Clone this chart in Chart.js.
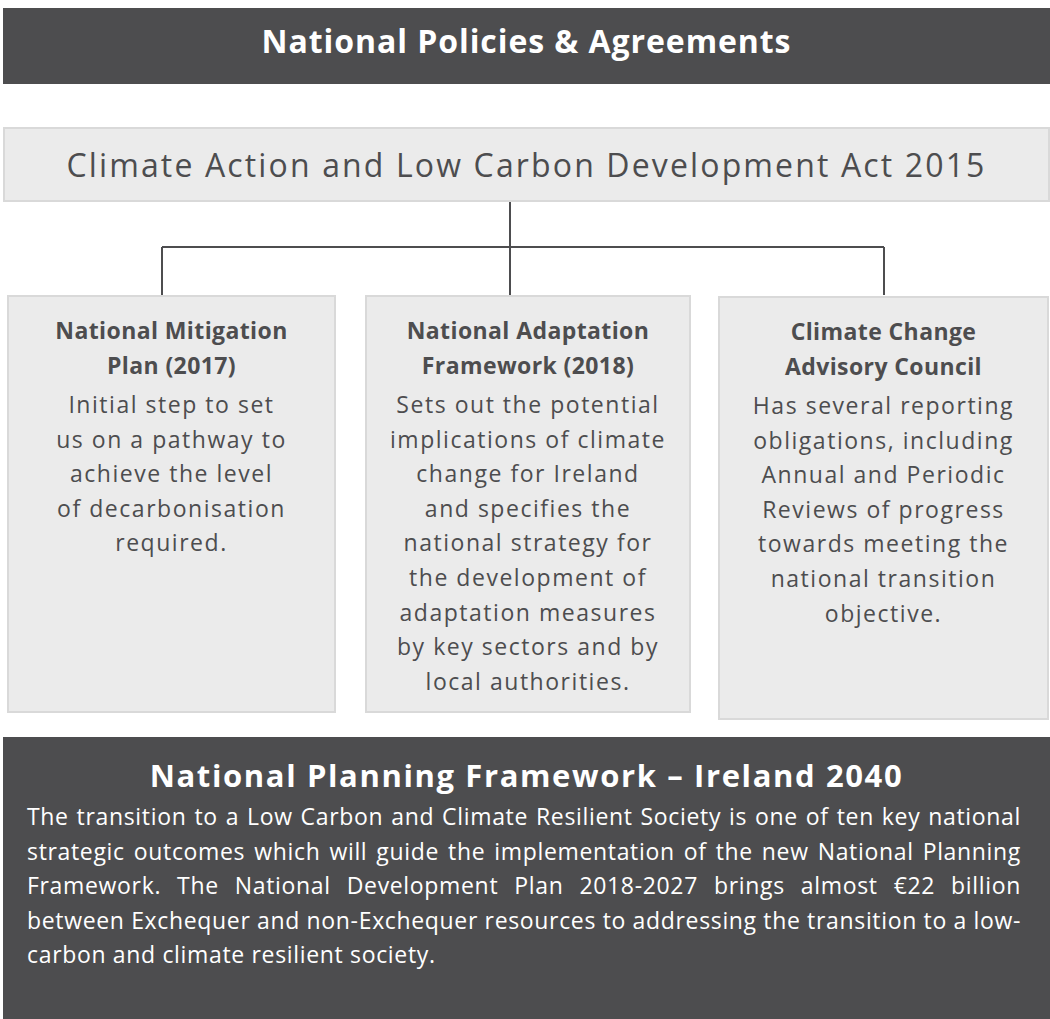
<!DOCTYPE html>
<html lang="en">
<head>
    <meta charset="UTF-8">
    <title>National Policies &amp; Agreements</title>
    <script src="https://cdn.jsdelivr.net/npm/chart.js"></script>
    <style>
        body {
            margin: 0;
            background-color: #ffffff;
            font-family: 'Open Sans', sans-serif;
            color: #4d4d4f;
        }

        #page {
            position: relative;
            width: 1050px;
            height: 1019px;
            overflow: hidden;
        }

        #links {
            position: absolute;
            left: 0;
            top: 0;
        }

        .dark {
            position: absolute;
            background-color: #4d4d4f;
            color: #ffffff;
        }

        .grey {
            position: absolute;
            box-sizing: border-box;
            background-color: #ebebeb;
            border: 2px solid #d9d9d9;
        }

        .head {
            position: absolute;
            left: 0;
            right: 0;
            text-align: center;
            font-weight: 700;
            line-height: 40px;
            white-space: nowrap;
        }

        #topTitle { font-size: 32px; top: 13px; }
        #planTitle { font-size: 31px; top: 18px; }

        #act {
            position: absolute;
            left: 0;
            right: 0;
            top: 16px;
            text-align: center;
            font-size: 32px;
            line-height: 40px;
            white-space: nowrap;
        }

        .box h3 {
            margin: 0;
            padding-top: 16px;
            padding-bottom: 4px;
            font-size: 23px;
            line-height: 35px;
            font-weight: 700;
            text-align: center;
            white-space: nowrap;
        }

        .box p {
            margin: 0;
            font-size: 23px;
            line-height: 34.6px;
            text-align: center;
            white-space: nowrap;
        }

        #para {
            position: absolute;
            left: 24px;
            width: 997px;
            top: 62px;
            font-size: 23px;
            line-height: 34.6px;
        }

        #para div {
            white-space: nowrap;
        }
    </style>
</head>
<body>
    <div id="page">
        <canvas id="links" width="1050" height="1019"></canvas>

        <div class="dark" style="left:3px; top:8px; width:1047px; height:76px;">
            <div class="head" id="topTitle"></div>
        </div>

        <div class="grey" style="left:3px; top:127px; width:1047px; height:75px;">
            <div id="act"></div>
        </div>

        <div class="grey box" id="box0" style="left:7px; top:295px; width:329px; height:418px;"></div>
        <div class="grey box" id="box1" style="left:365px; top:295px; width:326px; height:418px;"></div>
        <div class="grey box" id="box2" style="left:718px; top:296px; width:331px; height:424px;"></div>

        <div class="dark" style="left:3px; top:737px; width:1047px; height:282px;">
            <div class="head" id="planTitle"></div>
            <div id="para"></div>
        </div>
    </div>

    <script>
        const topTitle = "National Policies & Agreements";
        const actTitle = "Climate Action and Low Carbon Development Act 2015";

        const boxTitles = [
            ["National Mitigation", "Plan (2017)"],
            ["National Adaptation", "Framework (2018)"],
            ["Climate Change", "Advisory Council"]
        ];

        const boxTexts = [
            ["Initial step to set", "us on a pathway to", "achieve the level", "of decarbonisation", "required."],
            ["Sets out the potential", "implications of climate", "change for Ireland", "and specifies the",
             "national strategy for", "the development of", "adaptation measures", "by key sectors and by",
             "local authorities."],
            ["Has several reporting", "obligations, including", "Annual and Periodic", "Reviews of progress",
             "towards meeting the", "national transition", "objective."]
        ];

        const planTitle = "National Planning Framework \u2013 Ireland 2040";
        const planLines = [
            "The transition to a Low Carbon and Climate Resilient Society is one of ten key national",
            "strategic outcomes which will guide the implementation of the new National Planning",
            "Framework. The National Development Plan 2018-2027 brings almost \u20ac22 billion",
            "between Exchequer and non-Exchequer resources to addressing the transition to a low-",
            "carbon and climate resilient society."
        ];

        // connector tree: act box down to a bus, bus out to the three boxes
        const trunkX = 510;
        const branchX = [162, 510, 884];
        const actBottom = 202;
        const busY = 247;
        const boxTop = 295;

        // text measuring, so the open font takes the width of the original face
        const meter = document.createElement('canvas').getContext('2d');
        function textWidth(el, s) {
            const cs = getComputedStyle(el);
            meter.font = cs.fontWeight + ' ' + cs.fontSize + ' ' + cs.fontFamily;
            return meter.measureText(s).width;
        }
        function spacingFor(el, sample, target) {
            return (target - textWidth(el, sample)) / (sample.length - 1);
        }

        const topEl = document.getElementById('topTitle');
        topEl.textContent = topTitle;
        topEl.style.letterSpacing = spacingFor(topEl, topTitle, 529) + 'px';

        const actEl = document.getElementById('act');
        actEl.textContent = actTitle;
        actEl.style.letterSpacing = spacingFor(actEl, actTitle, 918) + 'px';

        const planEl = document.getElementById('planTitle');
        planEl.textContent = planTitle;
        planEl.style.letterSpacing = spacingFor(planEl, planTitle, 752) + 'px';

        boxTitles.forEach(function (t, i) {
            const box = document.getElementById('box' + i);
            const h = document.createElement('h3');
            h.innerHTML = t.join('<br>');
            box.appendChild(h);
            h.style.letterSpacing = spacingFor(h, "National Mitigation", 232) + 'px';
            boxTexts[i].forEach(function (line) {
                const p = document.createElement('p');
                p.textContent = line;
                box.appendChild(p);
                p.style.letterSpacing = spacingFor(p, "us on a pathway to", 229) + 'px';
            });
        });

        // justified paragraph: letter spacing from the free last line,
        // then each full line gets its own word spacing to reach the measure
        const para = document.getElementById('para');
        const lastLine = planLines[planLines.length - 1];
        let ls = 0;
        planLines.forEach(function (line, i) {
            const d = document.createElement('div');
            d.textContent = line;
            para.appendChild(d);
            if (i === 0) ls = spacingFor(d, lastLine, 408);
            d.style.letterSpacing = ls + 'px';
            if (i < planLines.length - 1) {
                const natural = textWidth(d, line) + ls * line.length;
                const gaps = line.split(' ').length - 1;
                d.style.wordSpacing = ((994 - natural) / gaps) + 'px';
            }
        });

        const links = [
            [{x: trunkX, y: actBottom}, {x: trunkX, y: busY}],
            [{x: branchX[0], y: busY}, {x: branchX[branchX.length - 1], y: busY}]
        ];
        branchX.forEach(function (bx) {
            links.push([{x: bx, y: busY}, {x: bx, y: boxTop}]);
        });

        const ctx = document.getElementById('links').getContext('2d');
        new Chart(ctx, {
            type: 'line',
            data: {
                datasets: links.map(function (pts) {
                    return {
                        data: pts,
                        borderColor: '#4d4d4f',
                        borderWidth: 2,
                        pointRadius: 0,
                        fill: false
                    };
                })
            },
            options: {
                responsive: false,
                animation: false,
                layout: { padding: 0 },
                plugins: {
                    legend: { display: false },
                    tooltip: { enabled: false }
                },
                scales: {
                    x: { type: 'linear', min: 0, max: 1050, display: false },
                    y: { type: 'linear', min: 0, max: 1019, reverse: true, display: false }
                }
            }
        });
    </script>
</body>
</html>
